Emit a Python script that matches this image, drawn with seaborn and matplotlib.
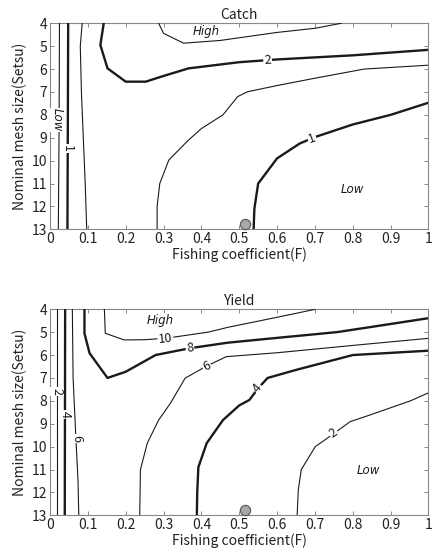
import matplotlib
matplotlib.use("Agg")
import matplotlib.pyplot as plt
import seaborn as sns

sns.set_style("ticks")
plt.rcParams['font.family'] = ['Noto Sans CJK JP', 'DejaVu Sans']

# --- Catch: contour lines (F, mesh size) ---
c05_f = [0.025, 0.024, 0.022]
c05_m = [4, 8.5, 13]
c1a_f = [0.048, 0.047, 0.046]
c1a_m = [4, 9, 13]
c15a_f = [0.085, 0.080, 0.083, 0.088, 0.093, 0.097]
c15a_m = [4, 5, 7, 9, 11, 13]
c2_f = [0.142, 0.133, 0.152, 0.2, 0.253, 0.3, 0.366, 0.5, 0.6, 0.8, 1.0]
c2_m = [4, 4.95, 5.97, 6.55, 6.55, 6.3, 5.97, 5.7, 5.58, 5.4, 5.16]
c25_f = [0.287, 0.3, 0.353, 0.45, 0.6, 0.7, 0.77]
c25_m = [4, 4.44, 4.87, 4.75, 4.4, 4.22, 4.0]
c15b_f = [0.283, 0.283, 0.29, 0.314, 0.366, 0.4, 0.457, 0.496, 0.522, 0.6, 0.7, 0.83, 1.0]
c15b_m = [13, 12, 11, 9.97, 9.1, 8.6, 8.0, 7.2, 6.99, 6.72, 6.4, 6.0, 5.83]
c1b_f = [0.538, 0.54, 0.55, 0.6, 0.66, 0.7, 0.8, 0.9, 1.0]
c1b_m = [13, 12.1, 11, 9.9, 9.25, 8.97, 8.42, 8.0, 7.47]

# --- Yield: contour lines ---
y2a_f = [0.018, 0.018]
y2a_m = [4, 13]
y4a_f = [0.040, 0.039]
y4a_m = [4, 13]
y6a_f = [0.059, 0.061, 0.068, 0.074, 0.076]
y6a_m = [4, 7, 9.5, 11.5, 13]
y8_f = [0.091, 0.091, 0.1045, 0.152, 0.2, 0.279, 0.37, 0.47, 0.6, 0.758, 0.85, 1.0]
y8_m = [4, 5.05, 5.92, 7.0, 6.73, 6.0, 5.7, 5.46, 5.25, 5.0, 4.77, 4.39]
y10_f = [0.1437, 0.146, 0.196, 0.25, 0.305, 0.418, 0.47, 0.55, 0.65, 0.701]
y10_m = [4, 5.05, 5.34, 5.33, 5.27, 5.0, 4.79, 4.52, 4.18, 4.0]
y6b_f = [0.237, 0.238, 0.239, 0.257, 0.287, 0.318, 0.357, 0.414, 0.466, 0.6, 0.8, 1.0]
y6b_m = [13, 12, 11.0, 9.85, 8.84, 8.11, 7.01, 6.48, 6.07, 5.9, 5.58, 5.27]
y4b_f = [0.388, 0.389, 0.392, 0.414, 0.457, 0.5, 0.527, 0.55, 0.575, 0.65, 0.8, 1.0]
y4b_m = [13, 12, 10.9, 9.85, 8.84, 8.2, 7.96, 7.45, 7.0, 6.65, 6.0, 5.81]
y2b_f = [0.653, 0.656, 0.664, 0.701, 0.732, 0.793, 0.845, 0.954, 1.0]
y2b_m = [13, 11.9, 11.0, 10.0, 9.64, 8.91, 8.62, 7.99, 7.65]

# present fishing point
point_f = [0.516]
point_m = [12.75]

x_ticks = [0, 0.1, 0.2, 0.3, 0.4, 0.5, 0.6, 0.7, 0.8, 0.9, 1.0]
x_labels = ["0", "0.1", "0.2", "0.3", "0.4", "0.5", "0.6", "0.7", "0.8", "0.9", "1"]
y_ticks = list(range(4, 14))

THICK = 1.7
THIN = 0.8

catch_lines = [(c05_f, c05_m, THIN), (c1a_f, c1a_m, THICK), (c15a_f, c15a_m, THIN),
               (c2_f, c2_m, THICK), (c25_f, c25_m, THIN), (c15b_f, c15b_m, THIN),
               (c1b_f, c1b_m, THICK)]
# (text, F, mesh, rotation)
catch_labels = [("1", 0.046, 9.46, -90), ("2", 0.575, 5.63, 4), ("1", 0.692, 9.02, 20)]
catch_notes = [("High", 0.414, 4.37, 0), ("Low", 0.80, 11.25, 0), ("Low", 0.019, 8.22, -90)]

yield_lines = [(y2a_f, y2a_m, THIN), (y4a_f, y4a_m, THICK), (y6a_f, y6a_m, THIN),
               (y8_f, y8_m, THICK), (y10_f, y10_m, THIN), (y6b_f, y6b_m, THIN),
               (y4b_f, y4b_m, THICK), (y2b_f, y2b_m, THIN)]
yield_labels = [("2", 0.018, 7.6, -90), ("4", 0.0395, 8.6, -90), ("6", 0.0697, 9.64, -90),
                ("10", 0.305, 5.27, 6), ("8", 0.37, 5.71, 9), ("6", 0.414, 6.48, 27),
                ("4", 0.549, 7.45, 50), ("2", 0.749, 9.42, 35)]
yield_notes = [("High", 0.292, 4.47, 0), ("Low", 0.84, 11.06, 0)]


def draw_panel(ax, title, lines, labels, notes):
    for f, m, lw in lines:
        sns.lineplot(x=f, y=m, sort=False, estimator=None, color="#1a1a1a",
                     linewidth=lw, ax=ax, zorder=3)
    for txt, f, m, rot in labels:
        ax.text(f, m, txt, rotation=rot, rotation_mode="anchor", ha="center", va="center",
                fontsize=9, color="#1a1a1a", zorder=5,
                bbox=dict(facecolor="white", edgecolor="none", pad=0.6))
    for txt, f, m, rot in notes:
        ax.text(f, m, txt, rotation=rot, rotation_mode="anchor", ha="center", va="center",
                fontsize=8.5, style="italic", family=["DejaVu Sans"], color="#1a1a1a",
                zorder=5, bbox=dict(facecolor="white", edgecolor="none", pad=0.3))
    sns.scatterplot(x=point_f, y=point_m, s=55, color="#a8a8a8", edgecolor="#555555",
                    linewidth=0.8, ax=ax, zorder=6, clip_on=False)
    ax.set_xlim(0, 1)
    ax.set_ylim(13, 4)
    ax.set_xticks(x_ticks)
    ax.set_xticklabels(x_labels)
    ax.set_yticks(y_ticks)
    ax.tick_params(direction="in", top=True, right=True, length=3, width=0.6,
                   color="#777777", labelsize=10, labelcolor="#222222", pad=2)
    for sp in ax.spines.values():
        sp.set_color("#888888")
        sp.set_linewidth(0.8)
    ax.set_title(title, fontsize=10, pad=3, color="#222222")
    ax.set_xlabel("Fishing coefficient(F)", fontsize=10, labelpad=1, color="#222222")
    ax.set_ylabel("Nominal mesh size(Setsu)", fontsize=10, labelpad=3, color="#222222")


fig = plt.figure(figsize=(4.33, 5.54), dpi=100)
ax1 = fig.add_axes([0.1155, 0.586, 0.874, 0.372])
ax2 = fig.add_axes([0.1155, 0.0698, 0.874, 0.372])

draw_panel(ax1, "Catch", catch_lines, catch_labels, catch_notes)
draw_panel(ax2, "Yield", yield_lines, yield_labels, yield_notes)

fig.savefig("out.png", dpi=100)
